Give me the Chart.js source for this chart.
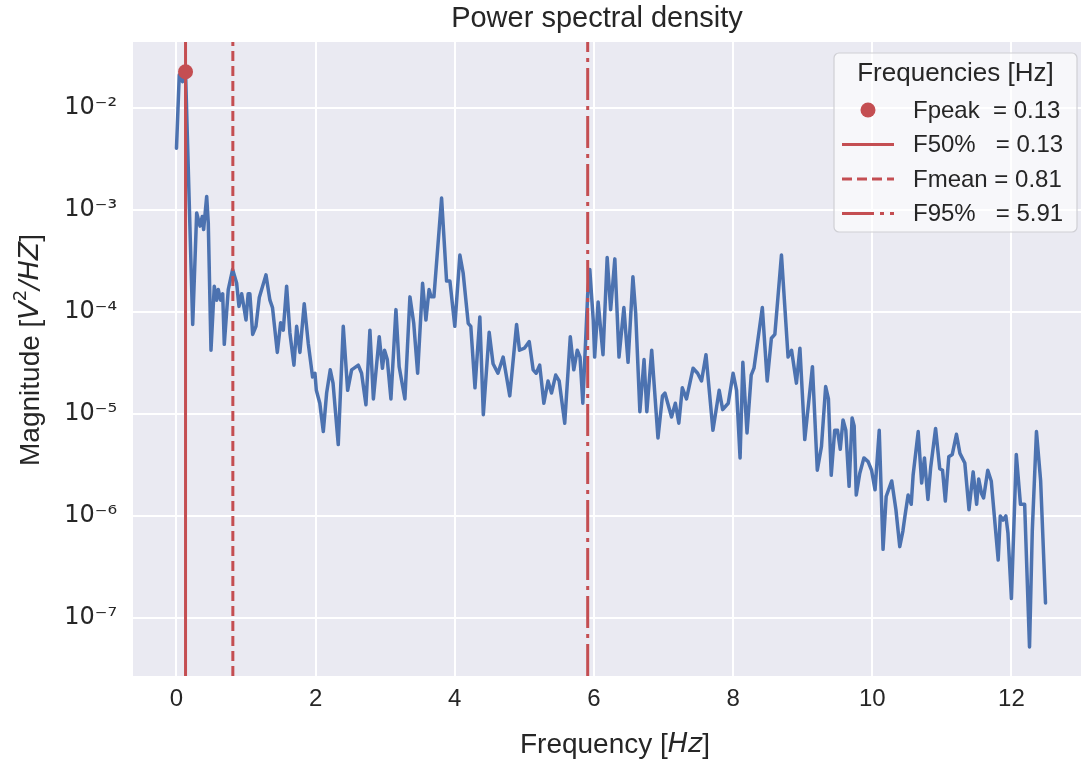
<!DOCTYPE html>
<html lang="en">
<head>
    <meta charset="UTF-8">
    <title>Power spectral density</title>
    <script src="https://cdn.jsdelivr.net/npm/chart.js"></script>
    <style>
        html, body { margin: 0; padding: 0; background: #ffffff; }
        .chart-container { position: relative; width: 1081px; height: 765px; }
    </style>
</head>
<body>
    <div class="chart-container">
        <canvas id="psdChart" role="img" aria-label="Power spectral density"></canvas>
    </div>
    <script>
        // Frequency [Hz] and magnitude [V^2/Hz]
        const freq = [
            0.00, 0.04, 0.085, 0.13, 0.233, 0.29, 0.338, 0.371, 0.39, 0.434, 0.457, 0.496, 0.543, 0.577, 0.601, 0.635,
            0.664, 0.687, 0.744, 0.807, 0.865, 0.898, 0.937, 0.97, 0.999, 1.03, 1.055, 1.095, 1.142, 1.19, 1.286, 1.343,
            1.38, 1.449, 1.497, 1.535, 1.583, 1.63, 1.688, 1.727, 1.774, 1.836, 1.894, 1.956, 1.99, 2.01, 2.06, 2.11,
            2.158, 2.21, 2.25, 2.325, 2.397, 2.46, 2.517, 2.613, 2.66, 2.723, 2.78, 2.83, 2.914, 2.96, 2.99, 3.03,
            3.082, 3.154, 3.2, 3.283, 3.355, 3.41, 3.466, 3.537, 3.585, 3.63, 3.66, 3.7, 3.81, 3.882, 3.93, 4.0,
            4.073, 4.12, 4.193, 4.23, 4.29, 4.36, 4.41, 4.494, 4.55, 4.62, 4.695, 4.79, 4.888, 4.93, 5.0, 5.07,
            5.126, 5.17, 5.22, 5.28, 5.34, 5.39, 5.45, 5.5, 5.58, 5.66, 5.71, 5.76, 5.8, 5.84, 5.91, 5.94,
            5.99, 6.01, 6.06, 6.13, 6.19, 6.24, 6.30, 6.36, 6.43, 6.49, 6.56, 6.60, 6.66, 6.72, 6.76, 6.83,
            6.92, 6.985, 7.02, 7.115, 7.17, 7.22, 7.27, 7.33, 7.425, 7.49, 7.546, 7.61, 7.71, 7.80, 7.85, 7.93,
            8.0, 8.05, 8.10, 8.14, 8.20, 8.26, 8.30, 8.42, 8.49, 8.55, 8.60, 8.695, 8.79, 8.84, 8.91, 8.96,
            9.03, 9.14, 9.21, 9.27, 9.33, 9.37, 9.41, 9.46, 9.50, 9.54, 9.58, 9.62, 9.667, 9.71, 9.74, 9.77,
            9.82, 9.88, 9.94, 9.99, 10.04, 10.10, 10.155, 10.20, 10.28, 10.34, 10.395, 10.44, 10.47, 10.515, 10.56, 10.587,
            10.66, 10.71, 10.75, 10.80, 10.84, 10.91, 10.97, 11.01, 11.05, 11.10, 11.15, 11.21, 11.26, 11.33, 11.39, 11.45,
            11.50, 11.53, 11.57, 11.60, 11.66, 11.71, 11.81, 11.84, 11.88, 11.92, 11.95, 12.00, 12.07, 12.13, 12.19, 12.26,
            12.30, 12.36, 12.42, 12.49
        ];
        const magnitude = [
            4.0e-3, 2.1e-2, 1.8e-2, 2.25e-2, 7.5e-5, 9.3e-4, 6.9e-4, 8.6e-4, 6.4e-4, 1.35e-3, 7.4e-4, 4.2e-5, 1.78e-4, 1.3e-4, 1.65e-4, 1.3e-4,
            1.5e-4, 4.8e-5, 1.65e-4, 2.6e-4, 1.9e-4, 1.13e-4, 1.5e-4, 1.1e-4, 8.3e-5, 1.5e-4, 1.5e-4, 6.0e-5, 7.2e-5, 1.38e-4, 2.3e-4, 1.3e-4,
            1.1e-4, 4.0e-5, 7.8e-5, 6.6e-5, 1.78e-4, 6.2e-5, 3.0e-5, 7.2e-5, 4.0e-5, 1.2e-4, 4.9e-5, 2.3e-5, 2.5e-5, 1.7e-5, 1.27e-5, 6.7e-6,
            1.6e-5, 2.7e-5, 2.0e-5, 5.0e-6, 7.2e-5, 1.7e-5, 2.7e-5, 3.0e-5, 2.5e-5, 1.23e-5, 6.6e-5, 1.4e-5, 5.7e-5, 2.8e-5, 4.2e-5, 3.4e-5,
            1.4e-5, 1.05e-4, 2.9e-5, 1.4e-5, 1.4e-4, 7.7e-5, 2.5e-5, 1.9e-4, 8.3e-5, 1.65e-4, 1.4e-4, 1.4e-4, 1.3e-3, 2.0e-4, 2.0e-4, 7.2e-5,
            3.6e-4, 2.4e-4, 7.7e-5, 7.2e-5, 1.8e-5, 8.9e-5, 9.8e-6, 6.3e-5, 3.1e-5, 2.5e-5, 3.6e-5, 1.5e-5, 7.5e-5, 4.2e-5, 4.4e-5, 5.1e-5,
            2.7e-5, 2.5e-5, 3.0e-5, 1.27e-5, 2.1e-5, 1.6e-5, 2.4e-5, 2.1e-5, 8.1e-6, 5.7e-5, 2.7e-5, 4.2e-5, 3.6e-5, 1.27e-5, 1.48e-4, 2.6e-4,
            8.3e-5, 3.6e-5, 1.25e-4, 3.8e-5, 3.4e-4, 1.05e-4, 3.3e-4, 3.6e-5, 1.1e-4, 3.2e-5, 2.2e-4, 9.6e-5, 1.05e-5, 3.4e-5, 1.05e-5, 4.2e-5,
            5.8e-6, 1.5e-5, 1.6e-5, 9.3e-6, 1.27e-5, 8.1e-6, 1.8e-5, 1.4e-5, 2.8e-5, 2.5e-5, 2.1e-5, 3.8e-5, 6.9e-6, 1.7e-5, 1.1e-5, 1.27e-5,
            2.5e-5, 1.7e-5, 3.7e-6, 3.2e-5, 6.5e-6, 2.4e-5, 2.8e-5, 1.1e-4, 2.1e-5, 5.5e-5, 6.0e-5, 3.6e-4, 3.6e-5, 4.2e-5, 2.0e-5, 4.4e-5,
            5.6e-6, 2.9e-5, 2.8e-6, 4.8e-6, 1.85e-5, 1.4e-5, 2.5e-6, 6.9e-6, 6.9e-6, 4.5e-6, 8.7e-6, 6.9e-6, 1.95e-6, 9.1e-6, 7.6e-6, 1.6e-6,
            2.6e-6, 3.7e-6, 3.4e-6, 2.8e-6, 1.8e-6, 6.9e-6, 4.7e-7, 1.55e-6, 2.2e-6, 1.15e-6, 5.0e-7, 7.1e-7, 1.0e-6, 1.6e-6, 1.3e-6, 2.5e-6,
            6.7e-6, 2.1e-6, 3.7e-6, 1.45e-6, 3.0e-6, 7.2e-6, 2.9e-6, 2.8e-6, 1.4e-6, 3.8e-6, 4.0e-6, 6.3e-6, 4.1e-6, 3.3e-6, 1.15e-6, 2.7e-6,
            1.3e-6, 2.3e-6, 1.66e-6, 1.5e-6, 2.8e-6, 2.2e-6, 3.7e-7, 1.0e-6, 9.1e-7, 1.0e-6, 6.8e-7, 1.55e-7, 4.0e-6, 1.3e-6, 1.3e-6, 5.2e-8,
            7.2e-7, 6.7e-6, 2.2e-6, 1.4e-7
        ];

        // characteristic frequencies shown in the legend
        const markerNames = ['Fpeak', 'F50%', 'Fmean', 'F95%'];
        const markerValues = [0.13, 0.13, 0.81, 5.91];
        const peakMagnitude = 0.0225;

        const xTicks = [0, 2, 4, 6, 8, 10, 12];
        const yTicks = [1e-7, 1e-6, 1e-5, 1e-4, 1e-3, 1e-2];
        const xMin = -0.625, xMax = 13.0;
        const yMin = 2.7e-8, yMax = 0.044;

        const blue = '#4C72B0';
        const red = '#C44E52';
        const textColor = '#262626';
        const fontFamily = "'Liberation Sans', Arial, sans-serif";
        const mathFamily = "'DejaVu Sans', sans-serif";

        const supMap = { '-': '\u207B', '0': '\u2070', '1': '\u00B9', '2': '\u00B2', '3': '\u00B3', '4': '\u2074',
                         '5': '\u2075', '6': '\u2076', '7': '\u2077', '8': '\u2078', '9': '\u2079' };
        function powerLabel(v) {
            const e = String(Math.round(Math.log10(v)));
            return '10' + e.split('').map(c => supMap[c]).join('');
        }

        function vline(x) {
            return [{ x: x, y: yMin }, { x: x, y: yMax }];
        }

        const lineStyles = [[], [], [10, 5], [32, 6, 4, 6]];

        // plot background + title, axis labels and legend
        const decorations = {
            id: 'decorations',
            beforeDraw(chart) {
                const { ctx, chartArea: a } = chart;
                ctx.save();
                ctx.fillStyle = '#EAEAF2';
                ctx.fillRect(a.left, a.top, a.right - a.left, a.bottom - a.top);
                ctx.restore();
            },
            afterDraw(chart) {
                const { ctx, chartArea: a } = chart;
                ctx.save();
                ctx.fillStyle = textColor;
                ctx.textBaseline = 'middle';

                ctx.font = '29px ' + fontFamily;
                ctx.textAlign = 'center';
                ctx.fillText('Power spectral density', 597, 19);

                // mixed-style axis labels
                function drawParts(parts, cx, cy) {
                    let total = 0;
                    parts.forEach(p => { ctx.font = p.font; total += ctx.measureText(p.t).width; });
                    let x = cx - total / 2;
                    ctx.textAlign = 'left';
                    parts.forEach(p => {
                        ctx.font = p.font;
                        ctx.fillText(p.t, x, cy + (p.dy || 0));
                        x += ctx.measureText(p.t).width;
                    });
                }
                const reg = '28px ' + fontFamily;
                const ital = 'italic 27px ' + mathFamily;
                drawParts([{ t: 'Frequency [', font: reg }, { t: 'Hz', font: ital }, { t: ']', font: reg }], 615, 745);

                ctx.save();
                ctx.translate(31, 350);
                ctx.rotate(-Math.PI / 2);
                drawParts([
                    { t: 'Magnitude [', font: reg },
                    { t: 'V', font: ital },
                    { t: '2', font: '18px ' + mathFamily, dy: -10 },
                    { t: '/HZ', font: ital },
                    { t: ']', font: reg }
                ], 0, 0);
                ctx.restore();

                // legend
                const bw = 243, bh = 179;
                const bx = a.right - 4 - bw, by = a.top + 11;
                ctx.beginPath();
                ctx.roundRect(bx, by, bw, bh, 5);
                ctx.fillStyle = 'rgba(255,255,255,0.6)';
                ctx.fill();
                ctx.strokeStyle = '#CFCFD4';
                ctx.lineWidth = 1.2;
                ctx.stroke();

                ctx.fillStyle = textColor;
                ctx.font = '26px ' + fontFamily;
                ctx.textAlign = 'center';
                ctx.fillText('Frequencies [Hz]', bx + bw / 2, by + 21);

                const pad = ['  ', '   ', ' ', '   '];
                markerNames.forEach((name, i) => {
                    const y = by + 57 + i * 34.5;
                    const hx = bx + 8;
                    ctx.strokeStyle = red;
                    ctx.fillStyle = red;
                    ctx.lineWidth = 3;
                    if (i === 0) {
                        ctx.beginPath();
                        ctx.arc(hx + 26, y, 7.5, 0, Math.PI * 2);
                        ctx.fill();
                    } else {
                        ctx.setLineDash(lineStyles[i]);
                        ctx.beginPath();
                        ctx.moveTo(hx, y);
                        ctx.lineTo(hx + 52, y);
                        ctx.stroke();
                        ctx.setLineDash([]);
                    }
                    ctx.fillStyle = textColor;
                    ctx.textAlign = 'left';
                    ctx.font = '24px ' + fontFamily;
                    ctx.fillText(name + pad[i] + '= ' + markerValues[i].toFixed(2), bx + 79, y + 1);
                });
                ctx.restore();
            }
        };

        const datasets = [
            {
                label: 'Fpeak',
                data: [{ x: markerValues[0], y: peakMagnitude }],
                pointRadius: 7.5,
                pointBackgroundColor: red,
                pointBorderWidth: 0,
                showLine: false,
                order: 0
            },
            {
                label: 'PSD',
                data: freq.map((f, i) => ({ x: f, y: magnitude[i] })),
                showLine: true,
                borderColor: blue,
                borderWidth: 3.5,
                pointRadius: 0,
                borderJoinStyle: 'round',
                borderCapStyle: 'round',
                order: 2
            }
        ];
        for (let i = 1; i < markerNames.length; i++) {
            datasets.push({
                label: markerNames[i],
                data: vline(markerValues[i]),
                showLine: true,
                borderColor: red,
                borderWidth: 3,
                borderDash: lineStyles[i],
                pointRadius: 0,
                order: 1
            });
        }

        const ctx = document.getElementById('psdChart').getContext('2d');
        new Chart(ctx, {
            type: 'scatter',
            data: { datasets: datasets },
            options: {
                responsive: true,
                maintainAspectRatio: false,
                animation: false,
                layout: { autoPadding: false, padding: { top: 42, right: 0, bottom: 0, left: 0 } },
                plugins: {
                    legend: { display: false },
                    tooltip: { enabled: false },
                    title: { display: false }
                },
                scales: {
                    x: {
                        type: 'linear',
                        min: xMin,
                        max: xMax,
                        afterBuildTicks(scale) { scale.ticks = xTicks.map(v => ({ value: v })); },
                        afterFit(scale) { scale.height = 89; },
                        grid: { color: '#ffffff', lineWidth: 2, drawTicks: false },
                        border: { display: false },
                        ticks: {
                            color: textColor,
                            padding: 9,
                            font: { family: fontFamily, size: 24 },
                            callback: v => String(v)
                        }
                    },
                    y: {
                        type: 'logarithmic',
                        min: yMin,
                        max: yMax,
                        afterBuildTicks(scale) { scale.ticks = yTicks.map(v => ({ value: v })); },
                        afterFit(scale) { scale.width = 133; },
                        grid: { color: '#ffffff', lineWidth: 2, drawTicks: false },
                        border: { display: false },
                        ticks: {
                            color: textColor,
                            padding: 16,
                            font: { family: mathFamily, size: 24 },
                            callback: v => powerLabel(v)
                        }
                    }
                }
            },
            plugins: [decorations]
        });
    </script>
</body>
</html>
